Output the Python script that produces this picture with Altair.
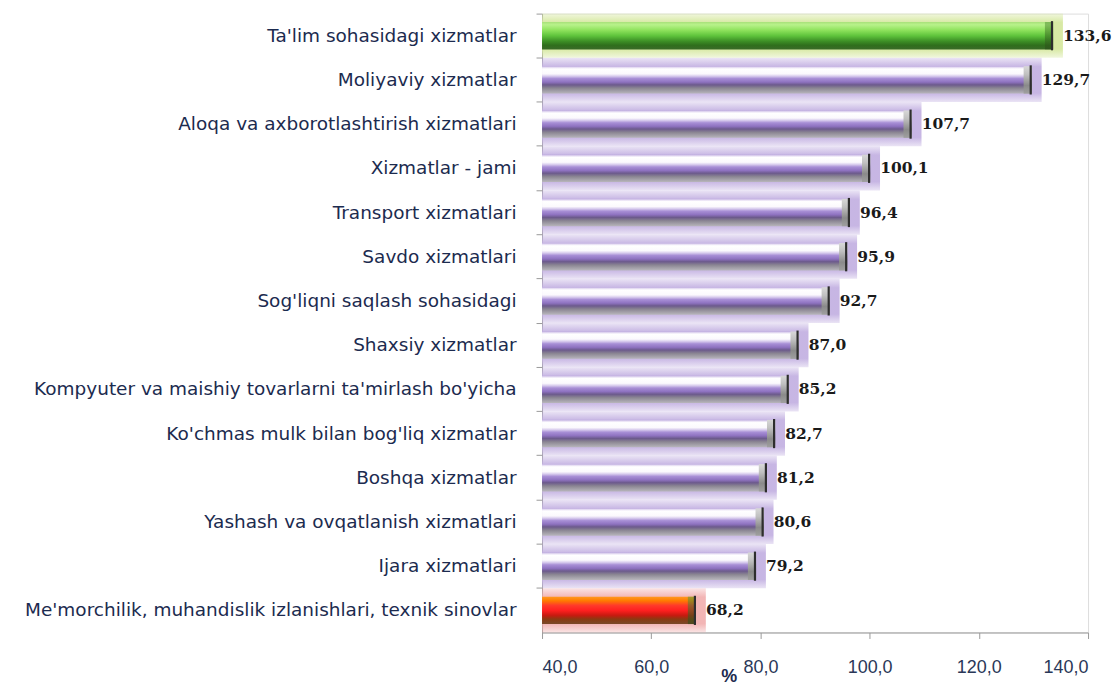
import altair as alt
import pandas as pd

categories = [
    "Ta'lim sohasidagi xizmatlar",
    "Moliyaviy xizmatlar",
    "Aloqa va axborotlashtirish xizmatlari",
    "Xizmatlar - jami",
    "Transport xizmatlari",
    "Savdo xizmatlari",
    "Sog'liqni saqlash sohasidagi",
    "Shaxsiy xizmatlar",
    "Kompyuter va maishiy tovarlarni ta'mirlash bo'yicha",
    "Ko'chmas mulk bilan bog'liq xizmatlar",
    "Boshqa xizmatlar",
    "Yashash va ovqatlanish xizmatlari",
    "Ijara xizmatlari",
    "Me'morchilik, muhandislik izlanishlari, texnik  sinovlar",
]
values = [133.6, 129.7, 107.7, 100.1, 96.4, 95.9, 92.7, 87.0, 85.2, 82.7, 81.2, 80.6, 79.2, 68.2]
groups = ["top"] + ["mid"] * 12 + ["low"]
x_ticks = [40, 60, 80, 100, 120, 140]

df = pd.DataFrame({"cat": categories, "value": values, "grp": groups})

NAVY = "#1c2b4f"

y_axis = alt.Axis(
    bandPosition=0,
    labelFont="DejaVu Sans",
    labelFontSize=18.5,
    labelColor=NAVY,
    labelPadding=20,
    labelLimit=700,
    tickSize=6,
    tickColor="#9a9a9a",
    domainColor="#9a9a9a",
    labelBaseline="middle",
)
y_enc = alt.Y(
    "cat:N",
    sort=categories,
    title=None,
    scale=alt.Scale(paddingInner=0, paddingOuter=0),
    axis=y_axis,
)
x_scale = alt.Scale(domain=[40, 140], nice=False, zero=False)
x_axis = alt.Axis(
    values=x_ticks,
    labelExpr="replace(format(datum.value, '.1f'), '.', ',')",
    labelFont="Liberation Sans",
    labelFontSize=18,
    labelColor="#2a3858",
    labelPadding=20,
    tickSize=6,
    tickColor="#9a9a9a",
    domainColor="#9a9a9a",
    grid=False,
    titleFont="Liberation Sans",
    titleFontSize=18,
    titleFontWeight="bold",
    titleColor=NAVY,
    titleX=187,
    titleY=44,
    titleAnchor="start",
    titleAlign="center",
    titleBaseline="middle",
)


def grad(stops):
    return alt.LinearGradient(
        gradient="linear", x1=0, y1=0, x2=0, y2=1,
        stops=[alt.GradientStop(offset=o, color=c) for o, c in stops],
    )


styles = {
    "mid": dict(
        halo=[(0, "rgba(196,178,226,0.35)"), (0.2, "rgba(196,178,226,0.95)"),
              (0.8, "rgba(196,178,226,0.95)"), (1, "rgba(196,178,226,0.35)")],
        bar=[(0, "#c0aee0"), (0.05, "#e8e0f4"), (0.1, "#ffffff"), (0.28, "#fbf9fd"),
             (0.36, "#d9cdee"), (0.45, "#a88fd6"), (0.58, "#8e72c0"), (0.68, "#6c5a8c"),
             (0.8, "#8a8592"), (1, "#b8b6bc")],
    ),
    "top": dict(
        halo=[(0, "rgba(214,232,160,0.35)"), (0.2, "rgba(214,232,160,0.95)"),
              (0.8, "rgba(214,232,160,0.95)"), (1, "rgba(214,232,160,0.35)")],
        bar=[(0, "#a8e07a"), (0.1, "#b8f28a"), (0.3, "#8ee25c"), (0.5, "#5fc43c"),
             (0.7, "#3d8f26"), (0.85, "#2f6e1c"), (1, "#3a6a28")],
    ),
    "low": dict(
        halo=[(0, "rgba(240,168,168,0.3)"), (0.2, "rgba(240,168,168,0.85)"),
              (0.8, "rgba(240,168,168,0.85)"), (1, "rgba(240,168,168,0.3)")],
        bar=[(0, "#ff9a20"), (0.15, "#ff7a00"), (0.32, "#ff3a2a"), (0.5, "#ff2020"),
             (0.68, "#c81a10"), (0.82, "#8a3a12"), (1, "#7a4a2a")],
    ),
}

base = alt.Chart(df).transform_calculate(
    lbl="replace(format(datum.value, '.1f'), '.', ',')",
    haloend="datum.value + 1.8",
    capstart="datum.value - 1.5",
    edgestart="datum.value - 0.4",
)

layers = []
for g, st in styles.items():
    sub = base.transform_filter(alt.datum.grp == g)
    layers.append(
        sub.mark_bar(color=grad(st["halo"]), height=alt.RelativeBandSize(band=1.0))
        .encode(y=y_enc, x=alt.X("haloend:Q", scale=x_scale, title="%", axis=x_axis), x2=alt.datum(40))
    )
for g, st in styles.items():
    sub = base.transform_filter(alt.datum.grp == g)
    layers.append(
        sub.mark_bar(color=grad(st["bar"]), height=alt.RelativeBandSize(band=0.62))
        .encode(y=y_enc, x=alt.X("value:Q", scale=x_scale, title="%", axis=x_axis), x2=alt.datum(40))
    )

cap = base.transform_filter(alt.datum.grp == "mid").mark_bar(
    color=grad([(0, "#d8d8d8"), (0.3, "#c0c0c0"), (0.7, "#8a8a8a"), (1, "#a0a0a0")]),
    height=alt.RelativeBandSize(band=0.62),
).encode(y=y_enc, x=alt.X("capstart:Q", scale=x_scale, title="%", axis=x_axis), x2="value:Q")

capc = base.transform_filter(alt.datum.grp != "mid").mark_bar(
    color=grad([(0, "#5a9a3a"), (0.5, "#3a6a22"), (1, "#2a4a18")]),
    height=alt.RelativeBandSize(band=0.62), opacity=0.55,
).encode(y=y_enc, x=alt.X("capstart:Q", scale=x_scale, title="%", axis=x_axis), x2="value:Q")

edge = base.mark_bar(color="#2e2e2e", height=alt.RelativeBandSize(band=0.66)).encode(
    y=y_enc, x=alt.X("edgestart:Q", scale=x_scale, title="%", axis=x_axis), x2="value:Q"
)

text = base.mark_text(
    align="left", baseline="middle", dx=10, font="DejaVu Serif",
    fontWeight="bold", fontSize=15.5, color="#1a1a1a",
).encode(y=y_enc, x=alt.X("value:Q", scale=x_scale, title="%", axis=x_axis), text="lbl:N")

chart = (
    alt.layer(*layers, cap, capc, edge, text)
    .properties(width=547, height=620, padding={"left": 10, "top": 4, "right": 0, "bottom": 0})
    .configure_view(stroke=None)
    .configure(background="white")
)

chart.save("out.html", embed_options={"renderer": "svg", "actions": False})
